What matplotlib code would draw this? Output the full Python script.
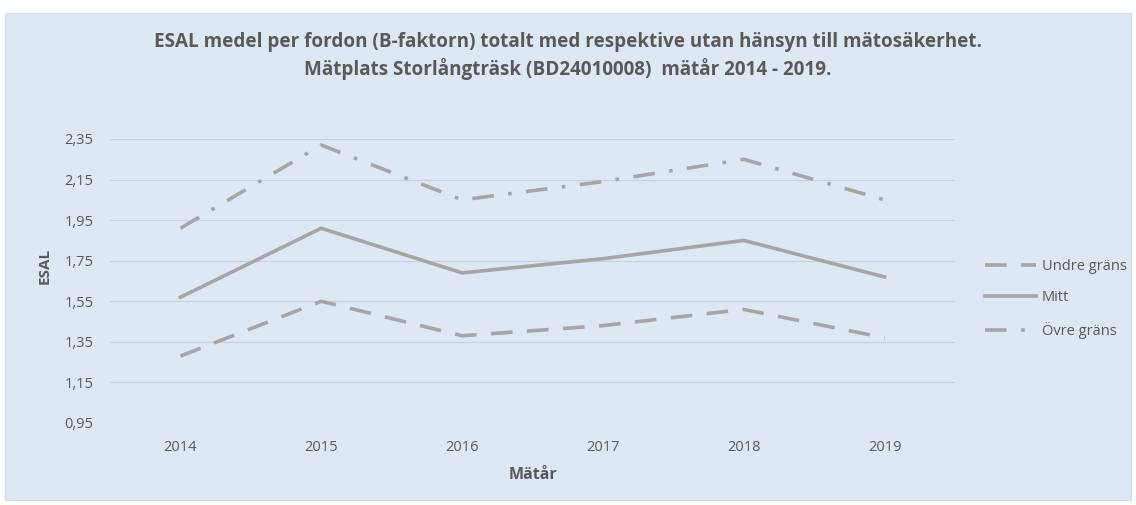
import matplotlib.pyplot as plt
from matplotlib.patches import Rectangle

# ESAL per fordon, Storlångträsk 2014-2019
years = ["2014", "2015", "2016", "2017", "2018", "2019"]
undre = [1.28, 1.55, 1.38, 1.43, 1.51, 1.37]
mitt = [1.57, 1.91, 1.69, 1.76, 1.85, 1.67]
ovre = [1.91, 2.32, 2.05, 2.14, 2.25, 2.05]
yticks = [0.95, 1.15, 1.35, 1.55, 1.75, 1.95, 2.15, 2.35]

bg = "#DEE8F4"
line_col = "#A6A6A6"
text_col = "#595959"
font = "Open Sans"

W, H = 1136, 505
fig = plt.figure(figsize=(W / 100, H / 100), dpi=100)
fig.patch.set_facecolor("white")
fig.patches.append(Rectangle((5 / W, 5 / H), 1126 / W, 487 / H,
                             transform=fig.transFigure, facecolor=bg,
                             edgecolor="#D0D9E4", linewidth=0.8, zorder=-10))

ax = fig.add_axes([110 / W, 1 - 423 / H, 845 / W, 284 / H])
ax.set_facecolor("none")

x = range(len(years))
ax.plot(x, undre, color=line_col, lw=2.6, dashes=(6, 4), label="Undre gräns",
        dash_capstyle="butt")
ax.plot(x, mitt, color=line_col, lw=2.6, label="Mitt")
ax.plot(x, ovre, color=line_col, lw=2.6, dashes=(6, 4, 1, 4), label="Övre gräns",
        dash_capstyle="butt")

ax.set_xlim(-0.5, len(years) - 0.5)
ax.set_ylim(0.95, 2.35)
ax.set_xticks(list(x))
ax.set_xticklabels(years)
ax.set_yticks(yticks)
ax.set_yticklabels([f"{v:.2f}".replace(".", ",") for v in yticks])
ax.grid(axis="y", color="#C8D2DE", lw=0.9)
ax.set_axisbelow(True)
for s in ax.spines.values():
    s.set_visible(False)
ax.tick_params(length=0, labelsize=10.5, colors=text_col)
ax.tick_params(axis="x", pad=12)
ax.tick_params(axis="y", pad=12)
for lbl in ax.get_xticklabels() + ax.get_yticklabels():
    lbl.set_family(font)

ax.set_xlabel("Mätår", fontsize=11.5, fontweight="bold", color=text_col,
              family=font)
ax.set_ylabel("ESAL", fontsize=11, fontweight="bold", color=text_col,
              family=font)
ax.xaxis.set_label_coords(0.5, -(475 - 423) / 284)
ax.yaxis.set_label_coords(-(110 - 45) / 845, (423 - 266) / 284)
ax.xaxis.label.set_va("center")
ax.yaxis.label.set_va("center")

fig.text(0.5, 1 - 42 / H,
         "ESAL medel per fordon (B-faktorn) totalt med respektive utan hänsyn till mätosäkerhet.",
         ha="center", va="center", fontsize=13.6, fontweight="bold",
         color=text_col, family=font)
fig.text(0.5, 1 - 69 / H,
         "Mätplats Storlångträsk (BD24010008)  mätår 2014 - 2019.",
         ha="center", va="center", fontsize=13.6, fontweight="bold",
         color=text_col, family=font)

leg = fig.legend(loc="center left", bbox_to_anchor=(985 / W, 1 - 299 / H),
                 bbox_transform=fig.transFigure, frameon=False,
                 borderpad=0, borderaxespad=0,
                 handlelength=3.5, handletextpad=0.4, labelspacing=1.15,
                 prop={"family": font, "size": 10.5})
for t in leg.get_texts():
    t.set_color(text_col)

fig.savefig("out.png", dpi=100)
